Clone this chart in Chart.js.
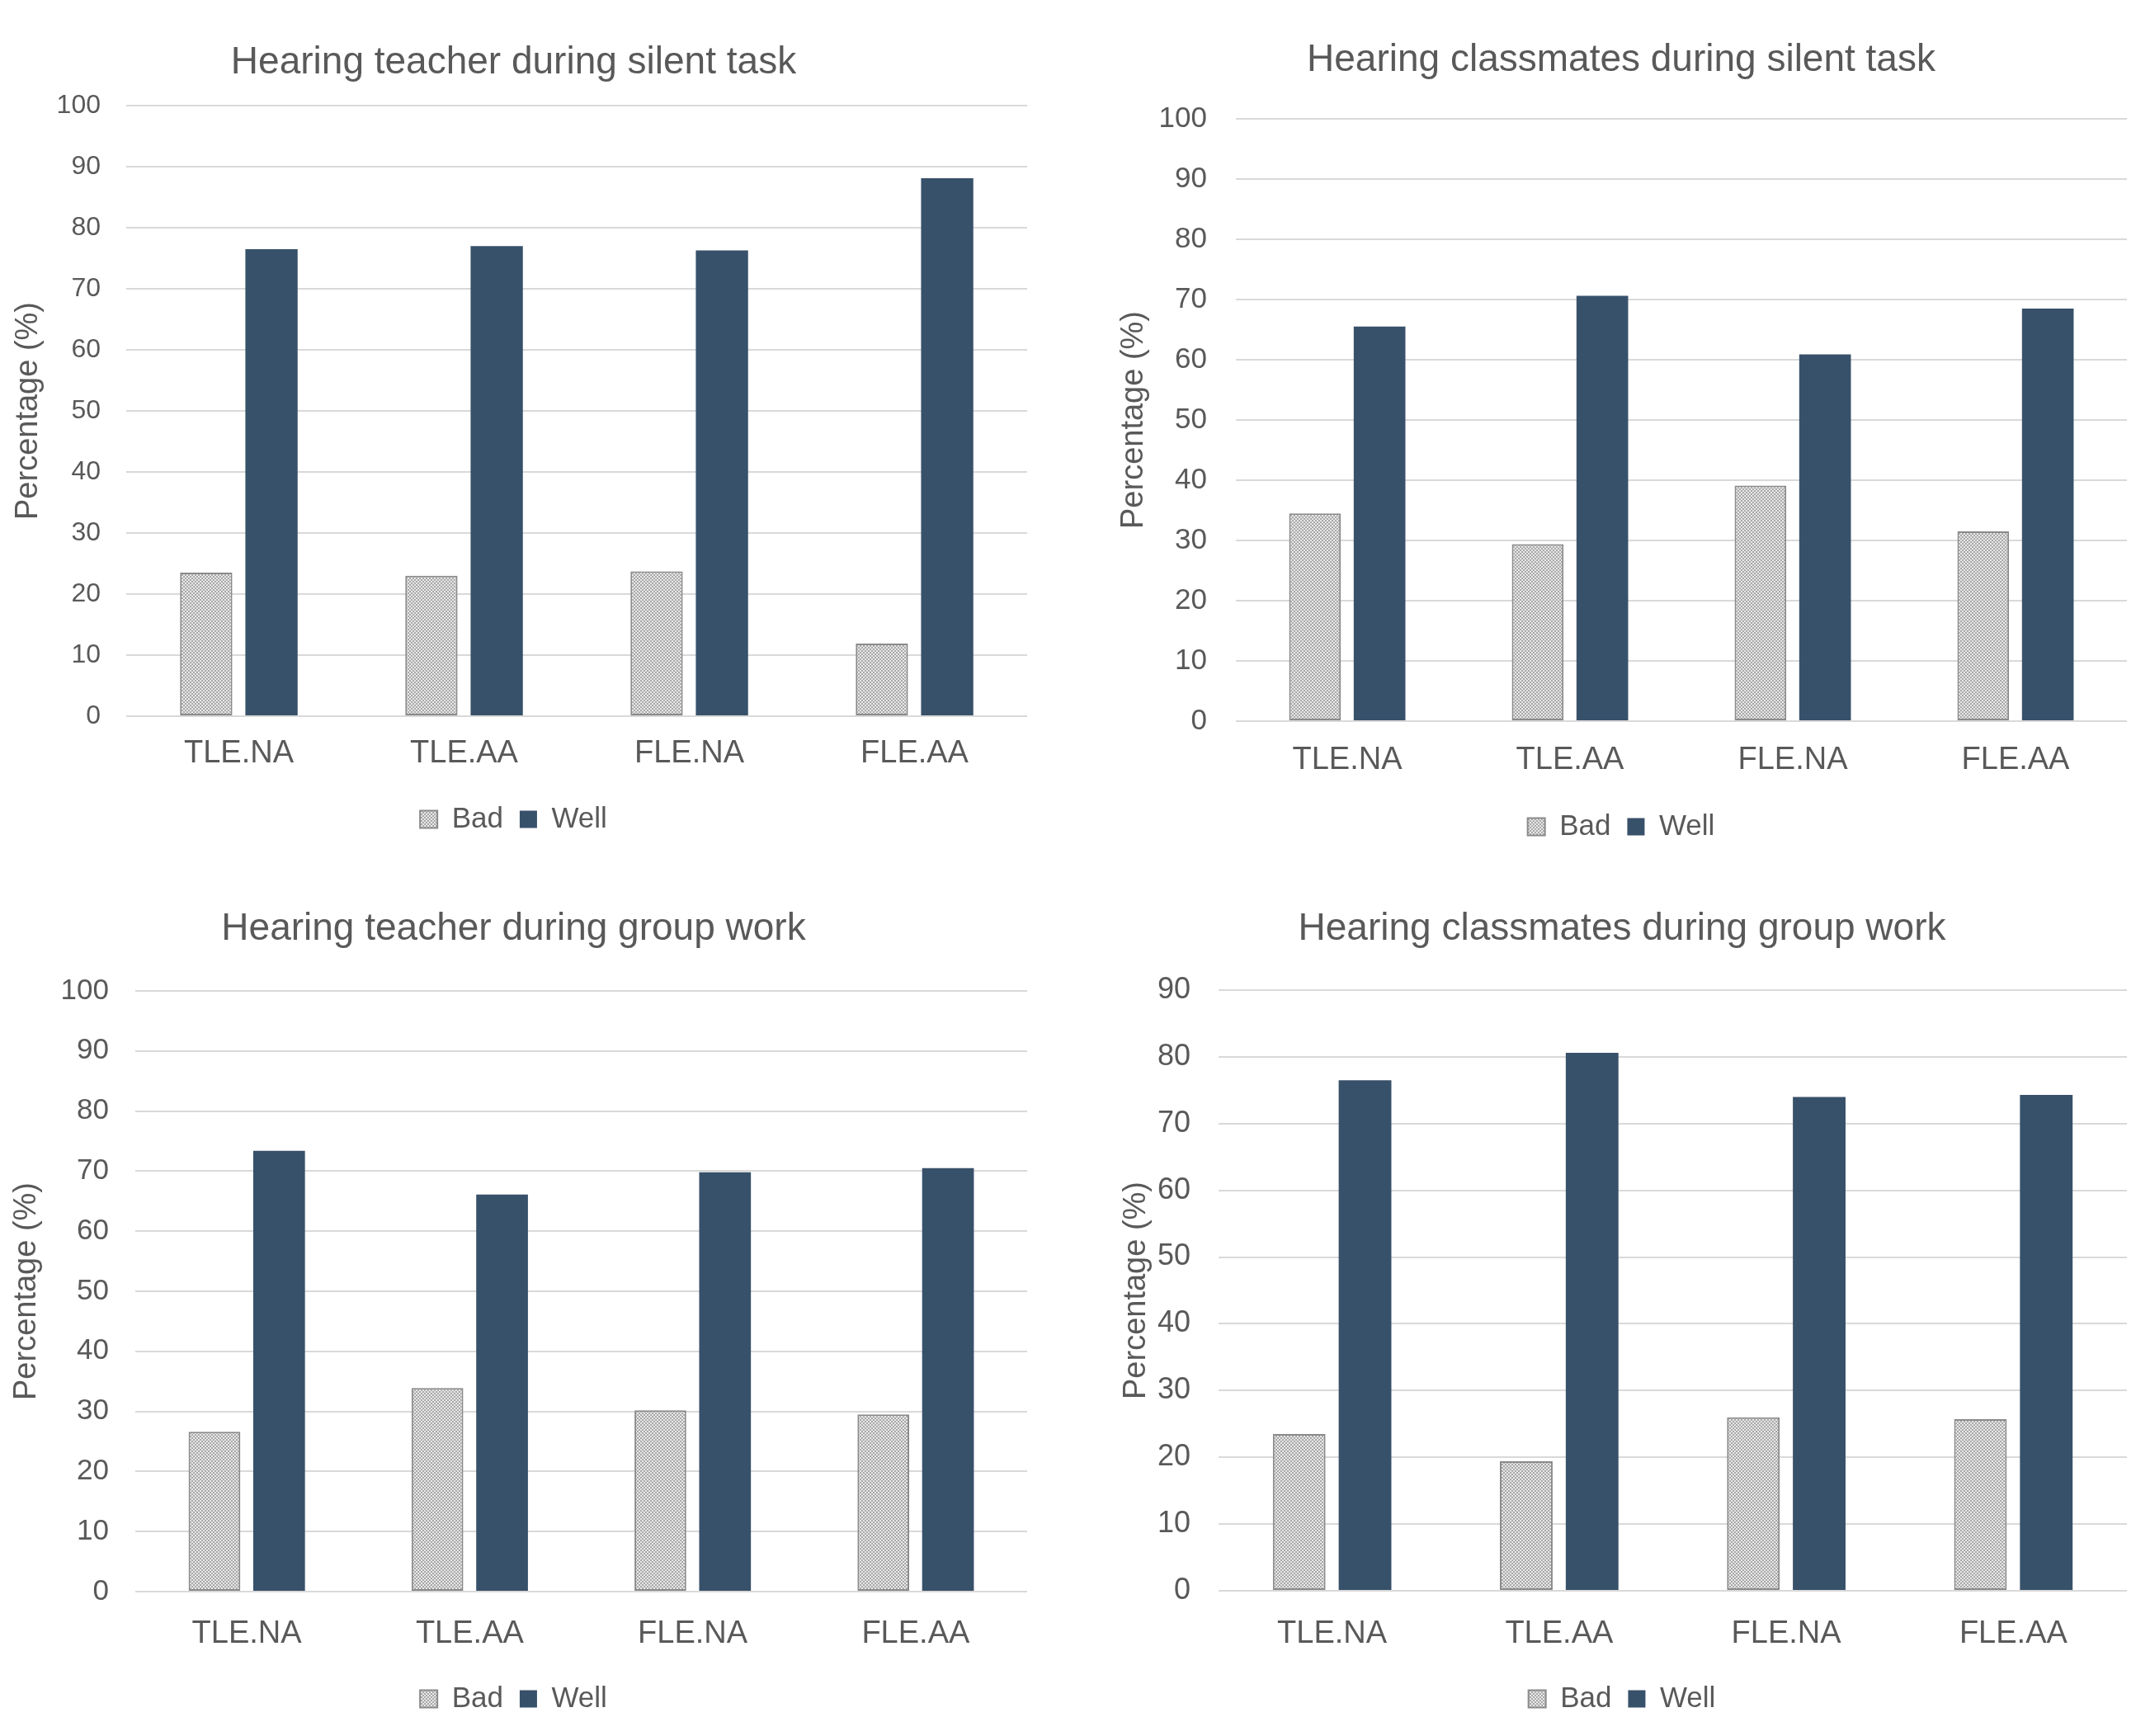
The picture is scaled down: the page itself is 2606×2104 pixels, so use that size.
<!DOCTYPE html>
<html>
<head>
<meta charset="utf-8">
<script src="https://cdn.jsdelivr.net/npm/chart.js@4.4.1/dist/chart.umd.min.js"></script>
<style>
  body { margin: 0; background: #fff; }
  #wrap { position: relative; width: 2606px; height: 2104px; }
  canvas { position: absolute; }
</style>
</head>
<body>
<div id="wrap"></div>
<script>
// Data
const categories = ['TLE.NA', 'TLE.AA', 'FLE.NA', 'FLE.AA'];
const seriesNames = ['Bad', 'Well'];

const teacherSilentBad = [23.5, 23.0, 23.7, 11.9];
const teacherSilentWell = [76.5, 77.0, 76.3, 88.1];
const classSilentBad = [34.5, 29.4, 39.1, 31.5];
const classSilentWell = [65.5, 70.6, 60.9, 68.5];
const teacherGroupBad = [26.6, 33.9, 30.2, 29.5];
const teacherGroupWell = [73.4, 66.1, 69.8, 70.5];
const classGroupBad = [23.5, 19.4, 26.0, 25.7];
const classGroupWell = [76.5, 80.6, 74.0, 74.3];

const chartTitles = [
    'Hearing teacher during silent task',
    'Hearing classmates during silent task',
    'Hearing teacher during group work',
    'Hearing classmates during group work'
];
const yMaxValues = [100, 100, 100, 90];
const yStep = 10;
const yAxisTitle = 'Percentage (%)';

const TEXT = '#595959';
const GRID = '#d9d9d9';
const WELL = '#38516a';
const FONT = "'Liberation Sans', Arial, sans-serif";

// Where each panel sits on the page (absolute pixels)
const panels = [
    { x: 0, y: 0, w: 1300, h: 1050, padL: 0, plotL: 153, plotR: 1245, plotT: 128, plotB: 868, titleY: 76, catY: 914, legY: 993, ylabX: 35, tickR: 122, tickFont: 32 },
    { x: 1300, y: 0, w: 1306, h: 1050, padL: 52, plotL: 1498, plotR: 2578, plotT: 144, plotB: 874, titleY: 73, catY: 922, legY: 1002, ylabX: 1375, tickR: 1463, tickFont: 35 },
    { x: 0, y: 1050, w: 1300, h: 1054, padL: 0, plotL: 164, plotR: 1245, plotT: 1201, plotB: 1929, titleY: 1126, catY: 1981, legY: 2059, ylabX: 33, tickR: 132, tickFont: 35 },
    { x: 1300, y: 1050, w: 1306, h: 1054, padL: 54, plotL: 1477, plotR: 2578, plotT: 1200, plotB: 1928, titleY: 1126, catY: 1981, legY: 2059, ylabX: 1378, tickR: 1443, tickFont: 36 }
];

const seriesData = [
    [teacherSilentBad, teacherSilentWell],
    [classSilentBad, classSilentWell],
    [teacherGroupBad, teacherGroupWell],
    [classGroupBad, classGroupWell]
];

// dotted grey fill used by the "Bad" bars
function makeDotPattern() {
    const c = document.createElement('canvas');
    c.width = 4;
    c.height = 4;
    const g = c.getContext('2d');
    g.fillStyle = '#e8e8e8';
    g.fillRect(0, 0, 4, 4);
    g.fillStyle = '#a8a8a8';
    g.fillRect(0, 0, 2, 2);
    g.fillRect(2, 2, 2, 2);
    return g.createPattern(c, 'repeat');
}

const badFill = makeDotPattern();

const titleFont = 46;
const catFont = 38;
const legendFont = 35;
const yTitleFont = 38;
const legendBox = 21;

panels.forEach((p, i) => {
    const canvas = document.createElement('canvas');
    canvas.width = p.w;
    canvas.height = p.h;
    canvas.style.left = p.x + 'px';
    canvas.style.top = p.y + 'px';
    canvas.style.width = p.w + 'px';
    canvas.style.height = p.h + 'px';
    document.getElementById('wrap').appendChild(canvas);

    // relative positions
    const plotL = p.plotL - p.x, plotR = p.plotR - p.x;
    const plotT = p.plotT - p.y, plotB = p.plotB - p.y;
    const titleLH = titleFont * 1.2;
    const titlePadTop = (p.titleY - p.y) - titleLH / 2;
    const titlePadBottom = plotT - titlePadTop - titleLH;
    const itemH = Math.max(legendFont, legendBox);
    const legendPad = 20;
    const legendBottom = (p.legY - p.y) + 10 + itemH / 2;
    const legendTop = legendBottom - (itemH + legendPad + 10);
    const xAxisHeight = legendTop - plotB;
    const catPad = (p.catY - p.y) - plotB - catFont * 0.6;
    const yTitlePad = Math.max(0, (p.ylabX - p.x) - p.padL - yTitleFont * 0.6);

    new Chart(canvas, {
        type: 'bar',
        data: {
            labels: categories,
            datasets: [
                {
                    label: seriesNames[0],
                    data: seriesData[i][0],
                    backgroundColor: badFill,
                    borderColor: '#8a8a8a',
                    borderWidth: 2,
                    borderSkipped: false
                },
                {
                    label: seriesNames[1],
                    data: seriesData[i][1],
                    backgroundColor: WELL,
                    borderColor: WELL,
                    borderWidth: 0
                }
            ]
        },
        options: {
            responsive: false,
            animation: false,
            devicePixelRatio: 1,
            layout: {
                padding: { left: p.padL, top: 0, right: p.w - plotR, bottom: p.h - legendBottom }
            },
            datasets: {
                bar: { barPercentage: 0.8, categoryPercentage: 0.58 }
            },
            plugins: {
                title: {
                    display: true,
                    text: chartTitles[i],
                    color: TEXT,
                    font: { family: FONT, size: titleFont, weight: 'normal' },
                    padding: { top: titlePadTop, bottom: titlePadBottom }
                },
                legend: {
                    position: 'bottom',
                    labels: {
                        color: TEXT,
                        font: { family: FONT, size: legendFont },
                        boxWidth: legendBox,
                        boxHeight: legendBox,
                        padding: legendPad
                    }
                },
                tooltip: { enabled: false }
            },
            scales: {
                x: {
                    grid: { display: false, drawTicks: false },
                    border: { display: false },
                    ticks: {
                        color: TEXT,
                        font: { family: FONT, size: catFont },
                        padding: catPad,
                        maxRotation: 0
                    },
                    afterFit: scale => { scale.height = xAxisHeight; }
                },
                y: {
                    min: 0,
                    max: yMaxValues[i],
                    grid: { color: GRID, lineWidth: 2, drawTicks: false },
                    border: { display: false },
                    ticks: {
                        stepSize: yStep,
                        color: TEXT,
                        font: { family: FONT, size: p.tickFont },
                        padding: p.plotL - p.tickR
                    },
                    title: {
                        display: true,
                        text: yAxisTitle,
                        color: TEXT,
                        font: { family: FONT, size: yTitleFont },
                        padding: { top: yTitlePad, bottom: 0 }
                    },
                    afterFit: scale => { scale.width = plotL - p.padL; }
                }
            }
        }
    });
});
</script>
</body>
</html>
